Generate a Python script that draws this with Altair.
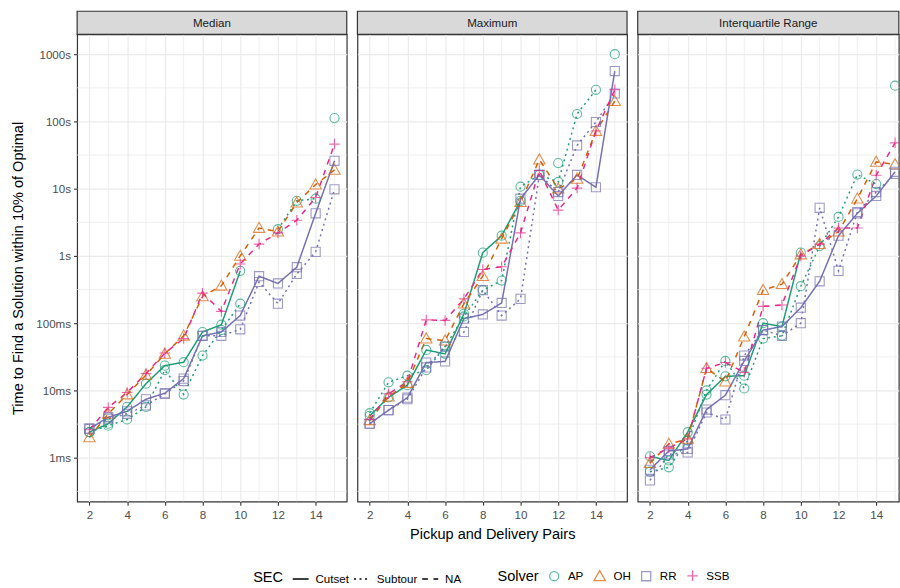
import json
import altair as alt
import pandas as pd

# ---------------- data ----------------
x_vals = list(range(2, 16))
panels = ["Median", "Maximum", "Interquartile Range"]
solvers = ["AP", "OH", "RR", "SSB"]
secs = ["Cutset", "Subtour", "NA"]
solver_colors = ["#1b9e77", "#d95f02", "#7570b3", "#e7298a"]
solver_shapes = ["circle", "M0,-1.25L1.25,0.95L-1.25,0.95Z", "square", "M-1.15,0L1.15,0M0,-1.15L0,1.15"]
sec_dashes = [[1, 0], [2, 3.6], [5.7, 5.7]]
x_tick_values = [2, 4, 6, 8, 10, 12, 14]
x_minor_values = [3, 5, 7, 9, 11, 13, 15]
y_tick_values = [0.001, 0.01, 0.1, 1, 10, 100, 1000]
y_tick_labels = ["1ms", "10ms", "100ms", "1s", "10s", "100s", "1000s"]
y_minor_values = [0.000316, 0.00316, 0.0316, 0.316, 3.16, 31.6, 316]

# seconds, x = 2 .. 15 (None = no value)
med_ap_cutset = [0.0024, 0.0032, 0.0057, 0.0126, 0.0234, 0.0263, 0.074, 0.095, 0.60, None, None, None, None, 112]
med_ap_subtour = [0.0024, 0.0030, 0.0037, 0.0057, 0.020, 0.0087, 0.033, 0.079, 0.195, None, 2.5, 6.6, 7.1, None]
med_oh_na = [0.0020, 0.0045, 0.0087, 0.017, 0.035, 0.065, 0.25, 0.36, 1.0, 2.6, 2.3, 6.2, 11.5, 19]
med_rr_cutset = [0.0027, 0.0040, 0.0049, 0.0074, 0.0091, 0.015, 0.065, 0.074, 0.13, 0.50, 0.39, 0.68, 4.3, 26]
med_rr_subtour = [0.0027, 0.0038, 0.0045, 0.0060, 0.0089, 0.0138, 0.065, 0.065, 0.081, 0.41, 0.195, 0.54, 1.15, 9.8]
med_ssb_na = [0.0026, 0.0056, 0.0093, 0.0178, 0.036, 0.059, 0.28, 0.15, 0.76, 1.5, 2.2, 3.4, 7.4, 46]

max_ap_cutset = [0.0042, 0.0079, 0.012, 0.040, 0.035, 0.138, 1.12, 2.0, 6.6, None, 24, None, None, 1000]
max_ap_subtour = [0.0046, 0.0132, 0.0166, 0.020, 0.045, 0.126, 0.31, 0.43, 10.7, 16, 12.6, 129, 295, None]
max_oh_na = [0.0036, 0.0081, 0.0129, 0.059, 0.055, 0.195, 0.50, 1.8, 6.3, 27, 10, 14, 72, 200]
max_rr_cutset = [0.0032, 0.0051, 0.0078, 0.026, 0.027, 0.117, 0.135, 0.20, 7.1, 16, 7.8, 16, 10.5, 560]
max_rr_subtour = [0.0032, 0.0051, 0.0074, 0.022, 0.045, 0.074, 0.31, 0.13, 0.23, 16, 8.9, 44, 98, 260]
max_ssb_na = [0.0037, 0.0089, 0.0135, 0.112, 0.11, 0.23, 0.63, 0.69, 2.2, 18.6, 4.8, 10.2, 72, 295]

iqr_ap_cutset = [0.00105, 0.00091, 0.0024, 0.0087, 0.0162, 0.0166, 0.10, 0.089, 1.12, None, None, None, None, 340]
iqr_ap_subtour = [0.00062, 0.00072, 0.0018, 0.010, 0.0275, 0.0107, 0.059, 0.065, 0.355, 1.4, 3.8, 16.2, 11.7, None]
iqr_oh_na = [0.00083, 0.0016, 0.0019, 0.0214, 0.0135, 0.063, 0.31, 0.38, 1.05, 1.5, 2.3, 7.1, 25, 23]
iqr_rr_cutset = [0.00066, 0.00126, 0.00135, 0.0052, 0.0085, 0.0275, 0.079, 0.089, 0.17, 0.42, 2.0, 4.3, 7.8, 17.8]
iqr_rr_subtour = [0.00046, 0.00112, 0.0012, 0.0047, 0.0037, 0.033, 0.079, 0.065, 0.10, 5.2, 0.60, 4.5, 8.9, 16.6]
iqr_ssb_na = [0.0010, 0.0014, 0.0019, 0.0214, 0.026, 0.0186, 0.178, 0.186, 1.0, 1.5, 2.6, 2.6, 15.8, 48]

series = [
    ("Median", "AP", "Cutset", med_ap_cutset),
    ("Median", "AP", "Subtour", med_ap_subtour),
    ("Median", "OH", "NA", med_oh_na),
    ("Median", "RR", "Cutset", med_rr_cutset),
    ("Median", "RR", "Subtour", med_rr_subtour),
    ("Median", "SSB", "NA", med_ssb_na),
    ("Maximum", "AP", "Cutset", max_ap_cutset),
    ("Maximum", "AP", "Subtour", max_ap_subtour),
    ("Maximum", "OH", "NA", max_oh_na),
    ("Maximum", "RR", "Cutset", max_rr_cutset),
    ("Maximum", "RR", "Subtour", max_rr_subtour),
    ("Maximum", "SSB", "NA", max_ssb_na),
    ("Interquartile Range", "AP", "Cutset", iqr_ap_cutset),
    ("Interquartile Range", "AP", "Subtour", iqr_ap_subtour),
    ("Interquartile Range", "OH", "NA", iqr_oh_na),
    ("Interquartile Range", "RR", "Cutset", iqr_rr_cutset),
    ("Interquartile Range", "RR", "Subtour", iqr_rr_subtour),
    ("Interquartile Range", "SSB", "NA", iqr_ssb_na),
]

rows = []
for panel, solver, sec, vals in series:
    seg = 0
    for xv, yv in zip(x_vals, vals):
        if yv is None:
            seg += 1
            continue
        rows.append({"panel": panel, "Solver": solver, "SEC": sec, "pairs": xv,
                     "time": yv, "grp": f"{solver}-{sec}-{seg}"})
df = pd.DataFrame(rows)

# ---------------- style ----------------
FONT = "Liberation Sans"
W = 272.6
H = 472.3
GAP = 7.4
W3 = 264.0
PX_PER_UNIT = W / 14.3
X_DOMAIN = [1.35, 15.65]
X_DOMAIN_3 = [1.35, 1.35 + W3 / PX_PER_UNIT]
Y_DOMAIN = [10 ** -3.651, 10 ** 3.294]

label_expr = json.dumps(y_tick_labels) + "[round(log(datum.value)/LN10)+3]"

color_scale = alt.Scale(domain=solvers, range=solver_colors)
shape_scale = alt.Scale(domain=solvers, range=solver_shapes)
dash_scale = alt.Scale(domain=secs, range=sec_dashes)


def make_panel(name, width, xdomain, first, middle):
    xscale = alt.Scale(domain=xdomain, nice=False, zero=False)
    yscale = alt.Scale(type="log", domain=Y_DOMAIN, nice=False)
    xaxis = alt.Axis(values=x_tick_values, grid=True, title="Pickup and Delivery Pairs" if middle else None,
                     labelFlush=False)
    if first:
        yaxis = alt.Axis(values=y_tick_values, labelExpr=label_expr, grid=True,
                         title="Time to Find a Solution within 10% of Optimal",
                         titleX=-59, titleBaseline="middle")
    else:
        yaxis = alt.Axis(values=y_tick_values, grid=True, labels=False, ticks=False,
                         domain=False, title=None)

    d = df[df["panel"] == name]
    base = alt.Chart(d)

    hminor = alt.Chart(pd.DataFrame({"v": y_minor_values})).mark_rule(
        color="#ebebeb", strokeWidth=0.8
    ).encode(y=alt.Y("v:Q", scale=yscale, axis=yaxis))
    vminor = alt.Chart(pd.DataFrame({"u": x_minor_values})).mark_rule(
        color="#ebebeb", strokeWidth=0.8, clip=True
    ).encode(x=alt.X("u:Q", scale=xscale, axis=xaxis))

    lines = base.mark_line(strokeWidth=1.5, clip=True).encode(
        x=alt.X("pairs:Q", scale=xscale, axis=xaxis),
        y=alt.Y("time:Q", scale=yscale, axis=yaxis),
        color=alt.Color("Solver:N", scale=color_scale),
        strokeDash=alt.StrokeDash(
            "SEC:N", scale=dash_scale,
            legend=alt.Legend(orient="none", legendX=178, legendY=541.5, direction="horizontal",
                              titleOrient="left", title="SEC", symbolType="stroke",
                              symbolStrokeColor="black", symbolStrokeWidth=1.6, symbolSize=260,
                              labelOffset=6, columnPadding=1, titlePadding=8),
        ),
        detail="grp:N",
    )
    points = base.mark_point(filled=False, size=85, strokeWidth=1.1, clip=True).encode(
        x=alt.X("pairs:Q", scale=xscale, axis=xaxis),
        y=alt.Y("time:Q", scale=yscale, axis=yaxis),
        color=alt.Color("Solver:N", scale=color_scale,
                        legend=alt.Legend(orient="none", legendX=425, legendY=541.5, direction="horizontal",
                                          titleOrient="left", title="Solver", symbolStrokeWidth=1.3,
                                          symbolSize=85, labelOffset=8, columnPadding=7, titlePadding=9.5)),
        shape=alt.Shape("Solver:N", scale=shape_scale),
    )

    strip_df = pd.DataFrame({"panel": [name]})
    strip = alt.Chart(strip_df).mark_rect(fill="#d9d9d9", stroke="#333333", strokeWidth=1.2).encode(
        x=alt.value(0), x2=alt.value(width), y=alt.value(-23.4), y2=alt.value(0)
    )
    strip_text = alt.Chart(strip_df).mark_text(font=FONT, fontSize=11.7, color="#1a1a1a",
                                                baseline="middle", align="center").encode(
        x=alt.value(width / 2), y=alt.value(-11.5), text="panel:N"
    )
    return alt.layer(hminor, vminor, lines, points, strip, strip_text).properties(width=width, height=H)


p1 = make_panel("Median", W, X_DOMAIN, True, False)
p2 = make_panel("Maximum", W, X_DOMAIN, False, True)
p3 = make_panel("Interquartile Range", W3, X_DOMAIN_3, False, False)

chart = alt.hconcat(p1, p2, p3, spacing=GAP).resolve_scale(
    x="independent", y="independent"
).properties(
    padding={"left": 10, "top": 6.5, "right": 0, "bottom": 0},
    background="white",
).configure_view(
    stroke="#333333", strokeWidth=1.2
).configure_axis(
    domain=False, gridColor="#ebebeb", gridWidth=1.2, tickColor="#333333", tickWidth=1.1,
    tickSize=3.7, labelColor="#4d4d4d", labelFont=FONT, labelFontSize=11.7,
    titleFont=FONT, titleFontSize=14.7, titleColor="black", titleFontWeight="normal",
).configure_axisX(
    labelPadding=4, titlePadding=6.5,
).configure_axisY(
    labelPadding=3,
).configure_legend(
    labelFont=FONT, labelFontSize=11.7, labelColor="black", titleFont=FONT, titleFontSize=14.7,
    titleColor="black", titleFontWeight="normal",
)

chart.save("out.html", embed_options={"renderer": "svg", "actions": False})
